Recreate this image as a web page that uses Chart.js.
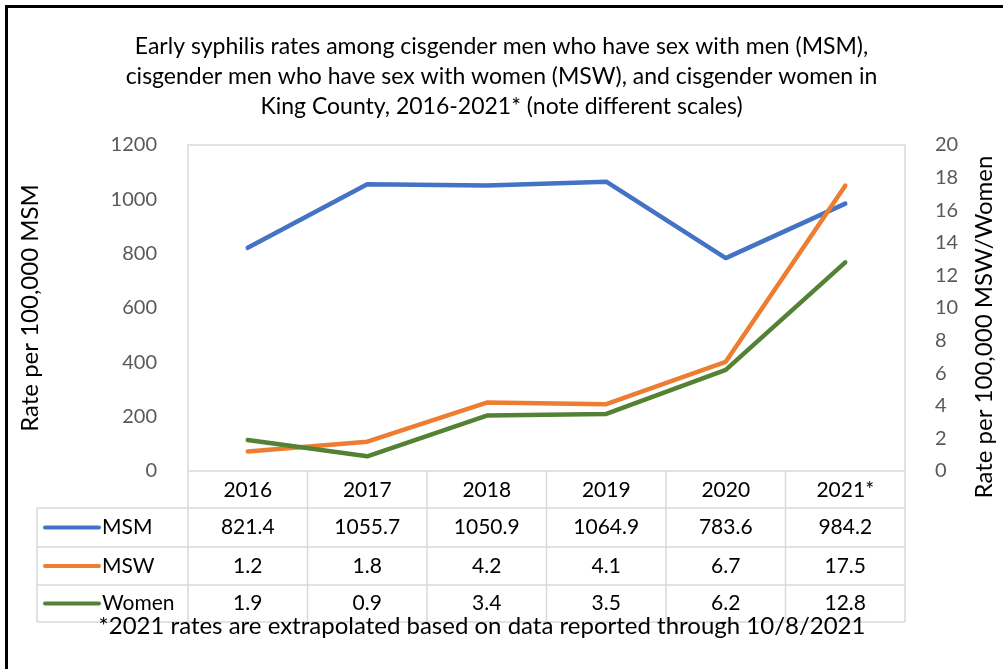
<!DOCTYPE html>
<html>
<head>
<meta charset="utf-8">
<script src="https://cdn.jsdelivr.net/npm/chart.js@4"></script>
<style>
  html, body { margin: 0; padding: 0; background: #fff; }
  canvas { display: block; }
</style>
</head>
<body>
<canvas id="chart" width="1003" height="669"></canvas>
<script>
const years = ["2016", "2017", "2018", "2019", "2020", "2021*"];
const msm = [821.4, 1055.7, 1050.9, 1064.9, 783.6, 984.2];
const msw = [1.2, 1.8, 4.2, 4.1, 6.7, 17.5];
const women = [1.9, 0.9, 3.4, 3.5, 6.2, 12.8];

const titleLines = [
  "Early syphilis rates among cisgender men who have sex with men (MSM),",
  "cisgender men who have sex with women (MSW), and cisgender women in",
  "King County, 2016-2021* (note different scales)"
];
const leftTitle = "Rate per 100,000 MSM";
const rightTitle = "Rate per 100,000 MSW/Women";
const footnote = "*2021 rates are extrapolated based on data reported through 10/8/2021";

const FONT = "Lato";
const gridColor = "#d9d9d9";

// data table under the plot, plus axis titles and outer frame
const tablePlugin = {
  id: "dataTable",
  afterDraw(chart) {
    const ctx = chart.ctx;
    const a = chart.chartArea;
    const colW = (a.right - a.left) / years.length;
    const rowLines = [a.bottom, 508, 547, 585, 622];
    const tableLeft = 37;
    ctx.save();

    // grid of the table and plot box
    ctx.strokeStyle = gridColor;
    ctx.lineWidth = 1.5;
    ctx.beginPath();
    ctx.rect(a.left, a.top, a.right - a.left, a.bottom - a.top);
    for (let i = 0; i < rowLines.length; i++) {
      const x0 = i === 0 ? a.left : tableLeft;
      ctx.moveTo(x0, rowLines[i]);
      ctx.lineTo(a.right, rowLines[i]);
    }
    for (let c = 0; c <= years.length; c++) {
      const x = a.left + c * colW;
      ctx.moveTo(x, a.bottom);
      ctx.lineTo(x, rowLines[4]);
    }
    ctx.moveTo(tableLeft, rowLines[1]);
    ctx.lineTo(tableLeft, rowLines[4]);
    ctx.stroke();

    // series rows
    ctx.font = "21px " + FONT;
    ctx.textBaseline = "middle";
    chart.data.datasets.forEach((ds, r) => {
      const yMid = (rowLines[r + 1] + rowLines[r + 2]) / 2;
      ctx.strokeStyle = ds.borderColor;
      ctx.lineWidth = 4;
      ctx.lineCap = "round";
      ctx.beginPath();
      ctx.moveTo(45, yMid);
      ctx.lineTo(99, yMid);
      ctx.stroke();
      ctx.fillStyle = "#000";
      ctx.textAlign = "left";
      ctx.fillText(ds.label, 102, yMid);
      ctx.textAlign = "center";
      ds.data.forEach((v, i) => {
        ctx.fillText(v.toFixed(1), chart.scales.x.getPixelForValue(i), yMid);
      });
    });

    // footnote
    ctx.font = "24px " + FONT;
    ctx.fillStyle = "#000";
    ctx.textAlign = "center";
    ctx.fillText(footnote, 482, 626);

    // axis titles
    ctx.font = "24px " + FONT;
    ctx.save();
    ctx.translate(30, 308);
    ctx.rotate(-Math.PI / 2);
    ctx.fillText(leftTitle, 0, 0);
    ctx.restore();
    ctx.save();
    ctx.translate(984, 327);
    ctx.rotate(-Math.PI / 2);
    ctx.fillText(rightTitle, 0, 0);
    ctx.restore();

    // outer frame (top and left edges)
    ctx.strokeStyle = "#000";
    ctx.lineWidth = 3;
    ctx.lineCap = "butt";
    ctx.beginPath();
    ctx.moveTo(6.5, 669);
    ctx.lineTo(6.5, 6.5);
    ctx.lineTo(1003, 6.5);
    ctx.stroke();
    ctx.restore();
  }
};

const plainTick = (v) => String(v);

const ctx = document.getElementById("chart").getContext("2d");
new Chart(ctx, {
  type: "line",
  data: {
    labels: years,
    datasets: [
      { label: "MSM", data: msm, yAxisID: "y", borderColor: "#4472C4", order: 2 },
      { label: "MSW", data: msw, yAxisID: "y1", borderColor: "#ED7D31", order: 1 },
      { label: "Women", data: women, yAxisID: "y1", borderColor: "#548235", order: 0 }
    ]
  },
  options: {
    responsive: false,
    animation: false,
    layout: { padding: { left: 0, right: 0, top: 0, bottom: 47 } },
    elements: {
      line: { borderWidth: 4.5, tension: 0, borderCapStyle: "round", borderJoinStyle: "round", fill: false },
      point: { radius: 0, hoverRadius: 0 }
    },
    plugins: {
      legend: { display: false },
      tooltip: { enabled: false },
      title: {
        display: true,
        text: titleLines,
        color: "#000",
        font: { family: FONT, size: 23, weight: "normal", lineHeight: 1.304 },
        padding: { top: 32, bottom: 23 }
      }
    },
    scales: {
      x: {
        offset: true,
        grid: { display: false, drawTicks: false },
        border: { display: false },
        ticks: { color: "#000", font: { family: FONT, size: 21 }, padding: 7 },
        afterFit(s) { s.height = 151; }
      },
      y: {
        position: "left",
        min: 0,
        max: 1200,
        grid: { display: false },
        border: { display: false },
        ticks: { stepSize: 200, color: "#595959", font: { family: FONT, size: 20 }, padding: 23, callback: plainTick },
        afterFit(s) { s.width = 188; }
      },
      y1: {
        position: "right",
        min: 0,
        max: 20,
        grid: { display: false },
        border: { display: false },
        ticks: { stepSize: 2, color: "#595959", font: { family: FONT, size: 20 }, padding: 22, callback: plainTick },
        afterFit(s) { s.width = 98; }
      }
    }
  },
  plugins: [tablePlugin]
});
</script>
</body>
</html>
